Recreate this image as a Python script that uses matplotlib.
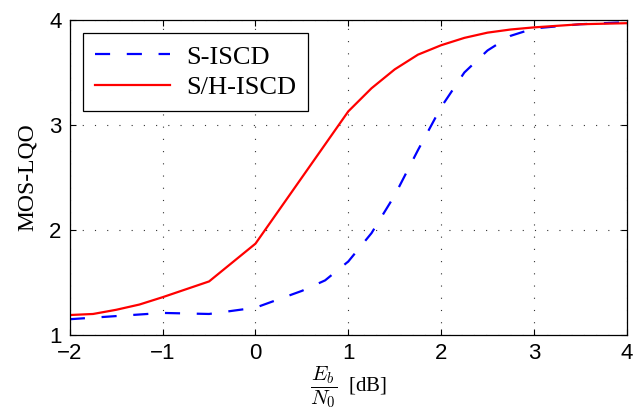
import matplotlib
matplotlib.use('Agg')
import matplotlib.pyplot as plt

# E_b/N_0 in dB
snr_s = [-2, -1.5, -1, -0.5, 0, 0.5, 0.75, 1, 1.25, 1.5, 1.75, 2, 2.25, 2.5, 2.75, 3, 3.5, 4]
mos_s = [1.15, 1.18, 1.21, 1.20, 1.26, 1.42, 1.52, 1.70, 1.97, 2.33, 2.76, 3.17, 3.50, 3.71, 3.85, 3.92, 3.96, 3.98]

snr_sh = [-2, -1.75, -1.5, -1.25, -1, -0.5, 0, 0.5, 1, 1.25, 1.5, 1.75, 2, 2.25, 2.5, 2.75, 3, 3.5, 4]
mos_sh = [1.19, 1.20, 1.24, 1.29, 1.36, 1.51, 1.87, 2.50, 3.13, 3.35, 3.53, 3.67, 3.76, 3.83, 3.88, 3.91, 3.93, 3.96, 3.97]

xticks = [-2, -1, 0, 1, 2, 3, 4]
yticks = [1, 2, 3, 4]

plt.rcParams['mathtext.fontset'] = 'cm'
plt.rcParams['axes.unicode_minus'] = True
plt.rcParams['font.family'] = ['Liberation Sans', 'DejaVu Sans']

fig = plt.figure(figsize=(6.35, 4.09), dpi=100)
ax = fig.add_axes([0.110, 0.181, 0.877, 0.770])

ax.plot(snr_s, mos_s, color='#0000ff', lw=1.6, dashes=(6.8, 7.5), dash_capstyle='butt', label='S-ISCD')
ax.plot(snr_sh, mos_sh, color='#ff0000', lw=1.6, label='S/H-ISCD')

ax.set_xlim(-2, 4)
ax.set_ylim(1, 4)
ax.set_xticks(xticks)
ax.set_yticks(yticks)
ax.tick_params(direction='in', top=True, right=True, length=4, width=0.8, pad=6, labelsize=16)

ax.grid(True, color='#333333', lw=0.8, linestyle=(0, (1, 10)))
for s in ax.spines.values():
    s.set_linewidth(0.9)

ax.set_ylabel('MOS-LQO', family='Liberation Serif', fontsize=17, labelpad=8)
ax.set_xlabel(r'$\dfrac{E_b}{N_0}$  [dB]', family='Liberation Serif', fontsize=15, labelpad=0)

leg = ax.legend(loc='upper left', prop={'family': 'Liberation Serif', 'size': 19},
                fancybox=False, framealpha=1, edgecolor='black', handlelength=2.85,
                borderaxespad=0.5, borderpad=0.45, labelspacing=0.28, handletextpad=0.6)
leg.get_frame().set_linewidth(0.9)

fig.savefig('out.png', dpi=100)
